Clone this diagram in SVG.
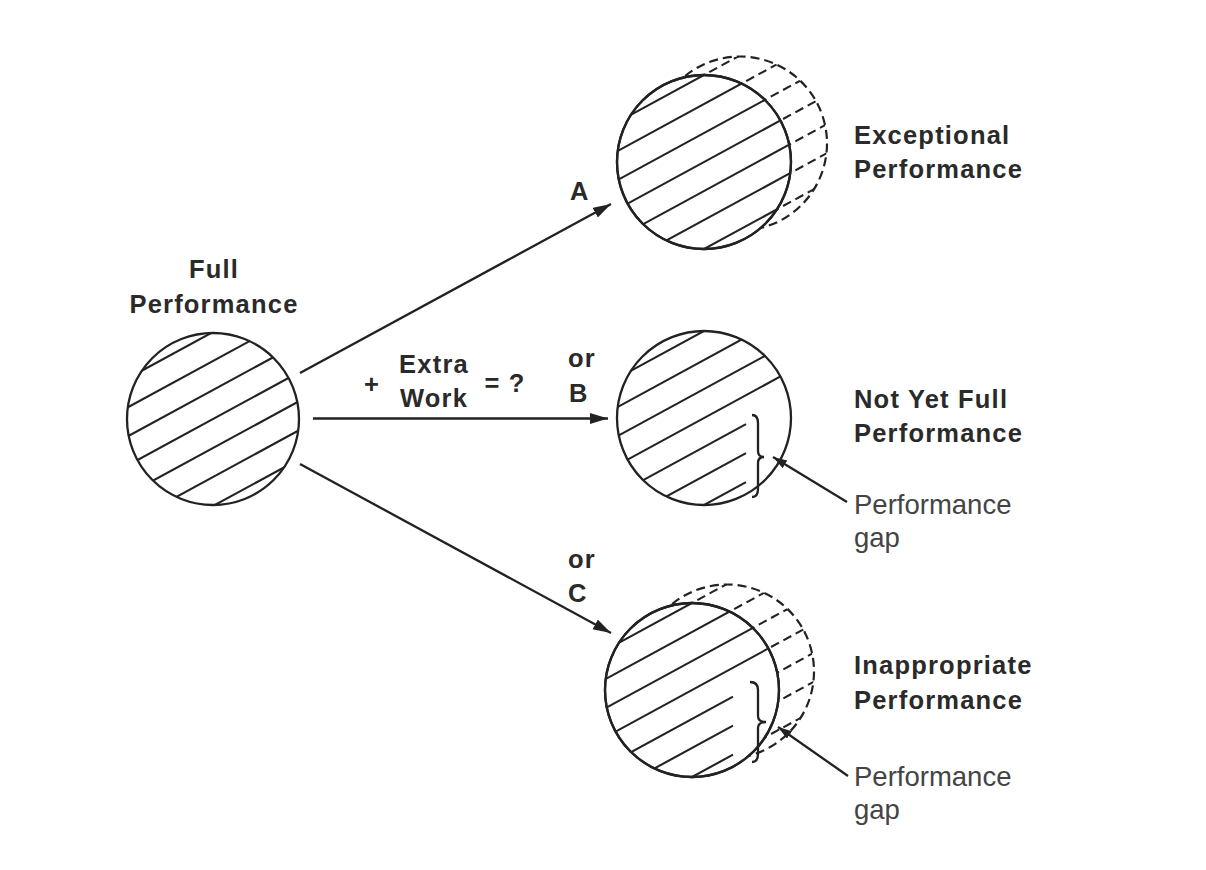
<svg xmlns="http://www.w3.org/2000/svg" xmlns:xlink="http://www.w3.org/1999/xlink" width="1206" height="870" viewBox="0 0 1206 870">
<style>
.ol{fill:none;stroke:#222;stroke-width:2.3}
.olw{fill:#fff;stroke:#222;stroke-width:2.3}
.dash{fill:none;stroke:#222;stroke-width:2.2;stroke-dasharray:9 5}
.h{stroke:#222;stroke-width:2.1;fill:none}
.hd{stroke:#222;stroke-width:2.1;stroke-dasharray:9 5;fill:none}
.con{fill:none;stroke:#222;stroke-width:2.3}
.b{font-family:"Liberation Sans",Arial,sans-serif;font-weight:bold;font-size:25.5px;letter-spacing:1.2px;fill:#2a2a2a}
.r{font-family:"Liberation Sans",Arial,sans-serif;font-size:27.5px;fill:#444}
</style>
<defs>
<clipPath id="c86"><circle cx="0" cy="0" r="86"/></clipPath>
<clipPath id="c87"><circle cx="0" cy="0" r="87"/></clipPath>
<g id="hTop">
<line x1="-130" y1="-16.28" x2="130" y2="-157.72"/>
<line x1="-130" y1="12.72" x2="130" y2="-128.72"/>
<line x1="-130" y1="41.72" x2="130" y2="-99.72"/>
<line x1="-130" y1="70.72" x2="130" y2="-70.72"/>
</g>
<g id="hBot">
<line x1="-130" y1="99.72" x2="130" y2="-41.72"/>
<line x1="-130" y1="128.72" x2="130" y2="-12.72"/>
<line x1="-130" y1="157.72" x2="130" y2="16.28"/>
</g>
<marker id="arr" markerUnits="userSpaceOnUse" markerWidth="20" markerHeight="12" refX="18" refY="5.5" orient="auto">
<path d="M0,0 L18,5.5 L0,11 Z" fill="#222"/>
</marker>
<marker id="arrS" markerUnits="userSpaceOnUse" markerWidth="16" markerHeight="10" refX="14" refY="4.5" orient="auto">
<path d="M0,0 L14,4.5 L0,9 Z" fill="#222"/>
</marker>
</defs>

<g id="node-full">
<g transform="translate(213,419)">
<g class="h" clip-path="url(#c86)"><use xlink:href="#hTop"/><use xlink:href="#hBot"/></g>
<circle class="ol" cx="0" cy="0" r="86"/>
</g>
<text class="b" x="214" y="278" text-anchor="middle">Full</text>
<text class="b" x="214" y="312.5" text-anchor="middle">Performance</text>
</g>

<g id="node-exceptional">
<g transform="translate(740,143.5)">
<circle class="dash" cx="0" cy="0" r="87"/>
<g clip-path="url(#c87)"><g class="hd" transform="translate(-36,18.5)"><use xlink:href="#hTop"/><use xlink:href="#hBot"/></g></g>
</g>
<g transform="translate(704,162)">
<circle class="olw" cx="0" cy="0" r="87"/>
<g class="h" clip-path="url(#c87)"><use xlink:href="#hTop"/><use xlink:href="#hBot"/></g>
<circle class="ol" cx="0" cy="0" r="87"/>
</g>
<text class="b" x="854" y="143.5">Exceptional</text>
<text class="b" x="854" y="178">Performance</text>
</g>

<g id="node-notyet">
<g transform="translate(704,418)">
<g class="h" clip-path="url(#c87)"><use xlink:href="#hTop"/>
<line x1="-130" y1="99.72" x2="42" y2="6.15"/>
<line x1="-130" y1="128.72" x2="42" y2="35.15"/>
<line x1="-130" y1="157.72" x2="42" y2="64.15"/>
</g>
<circle class="ol" cx="0" cy="0" r="87"/>
</g>
<path class="ol" stroke-width="1.8" d="M752,415 Q758,415 758,423 L758,451 Q758,457 764,457 Q758,457 758,463 L758,489 Q758,497 752,497"/>
<text class="b" x="854" y="407.5">Not Yet Full</text>
<text class="b" x="854" y="441.5">Performance</text>
</g>

<g id="node-inappropriate">
<g transform="translate(727,671.5)">
<circle class="dash" cx="0" cy="0" r="87"/>
<g clip-path="url(#c87)"><g class="hd" transform="translate(-35,18.5)"><use xlink:href="#hTop"/><use xlink:href="#hBot"/></g></g>
</g>
<g transform="translate(692,690)">
<circle class="olw" cx="0" cy="0" r="87"/>
<g class="h" clip-path="url(#c87)"><use xlink:href="#hTop"/>
<line x1="-130" y1="99.72" x2="41" y2="6.7"/>
<line x1="-130" y1="128.72" x2="41" y2="35.7"/>
<line x1="-130" y1="157.72" x2="41" y2="64.7"/>
</g>
<circle class="ol" cx="0" cy="0" r="87"/>
</g>
<path class="ol" stroke-width="1.8" d="M750,682 Q758,682 758,690 L758,716 Q758,722 766,722 Q758,722 758,728 L758,754 Q758,762 752,762"/>
<text class="b" x="854" y="674">Inappropriate</text>
<text class="b" x="854" y="708.5">Performance</text>
</g>

<g id="connectors">
<path class="con" d="M300,373 L611,204" marker-end="url(#arr)"/>
<path class="con" d="M313,418.5 L608,418.5" marker-end="url(#arr)"/>
<path class="con" d="M300,464 L611,633" marker-end="url(#arr)"/>
<path class="con" d="M847,502 L773,457" marker-end="url(#arrS)"/>
<path class="con" d="M848,776 L778,727" marker-end="url(#arrS)"/>
</g>

<g id="labels">
<text class="b" x="570" y="200">A</text>
<text class="b" x="372" y="393" text-anchor="middle">+</text>
<text class="b" x="434" y="373" text-anchor="middle">Extra</text>
<text class="b" x="434" y="406.5" text-anchor="middle">Work</text>
<text class="b" x="505" y="392" text-anchor="middle">= ?</text>
<text class="b" x="568" y="367">or</text>
<text class="b" x="569" y="402">B</text>
<text class="b" x="568" y="568">or</text>
<text class="b" x="568" y="602">C</text>
<text class="r" x="854" y="514">Performance</text>
<text class="r" x="854" y="547">gap</text>
<text class="r" x="854" y="786">Performance</text>
<text class="r" x="854" y="819">gap</text>
</g>
</svg>
